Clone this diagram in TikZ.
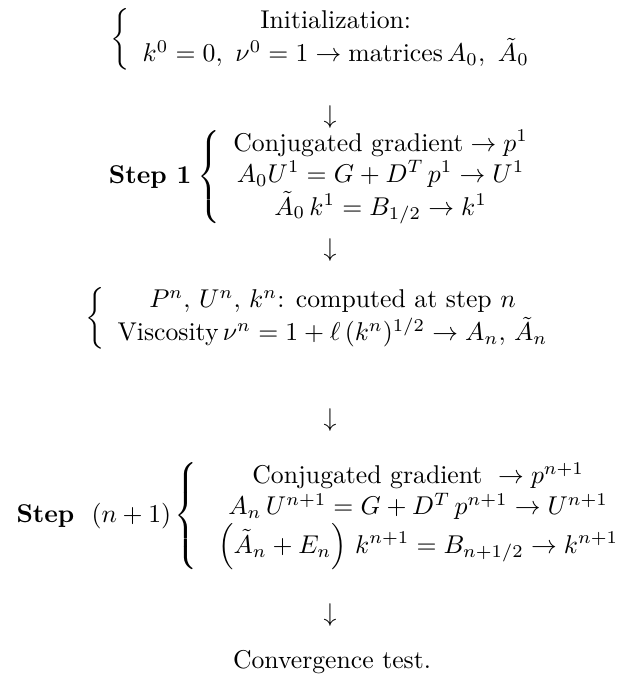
\documentclass[tikz,border=0pt]{standalone}
\usepackage{amsmath,amssymb}
\usetikzlibrary{positioning}

\begin{document}
\begin{tikzpicture}[x=0.389pt,y=-0.389pt,
  blk/.style={inner sep=0pt,anchor=west},
  lbl/.style={inner sep=0pt,anchor=east},
  darr/.style={inner sep=0pt}]
\useasboundingbox (0,0) rectangle (624,687);
\node[blk] (init) at (110,39) {$\left\{\begin{array}{c}
  \text{Initialization:}\\
  k^0=0,\ \nu^0=1\to\text{matrices}\,A_0,\ \tilde A_0
  \end{array}\right.$};
\node[darr] (a1) at (330,117) {$\downarrow$};
\node[lbl] (s1lab) at (192,177) {\textbf{Step 1}};
\node[blk,right=2pt of s1lab] (step1) {$\left\{\begin{array}{c}
  \text{Conjugated gradient}\to p^1\\
  A_0U^1=G+D^T\,p^1\to U^1\\
  \tilde A_0\,k^1=B_{1/2}\to k^1
  \end{array}\right.$};
\node[darr] (a2) at (330,250) {$\downarrow$};
\node[blk] (state) at (85,318) {$\left\{\begin{array}{c}
  P^n,\,U^n,\,k^n\text{: computed at step }n\\
  \text{Viscosity}\,\nu^n=1+\ell\,(k^n)^{1/2}\to A_n,\,\tilde A_n
  \end{array}\right.$};
\node[darr] (a3) at (330,420) {$\downarrow$};
\node[lbl,anchor=west] (snlab) at (16,516) {\textbf{Step}\ \ $(n+1)$};
\node[blk,right=1pt of snlab] (stepn) {$\left\{\begin{array}{@{\hspace{8pt}}c}
  \text{Conjugated gradient}\ \to p^{n+1}\\
  A_n\,U^{n+1}=G+D^T\,p^{n+1}\to U^{n+1}\\
  \left(\tilde A_n+E_n\right)\,k^{n+1}=B_{n+1/2}\to k^{n+1}
  \end{array}\right.$};
\node[darr] (a4) at (330,615) {$\downarrow$};
\node (conv) at (332,662) {Convergence test.};
\end{tikzpicture}
\end{document}
